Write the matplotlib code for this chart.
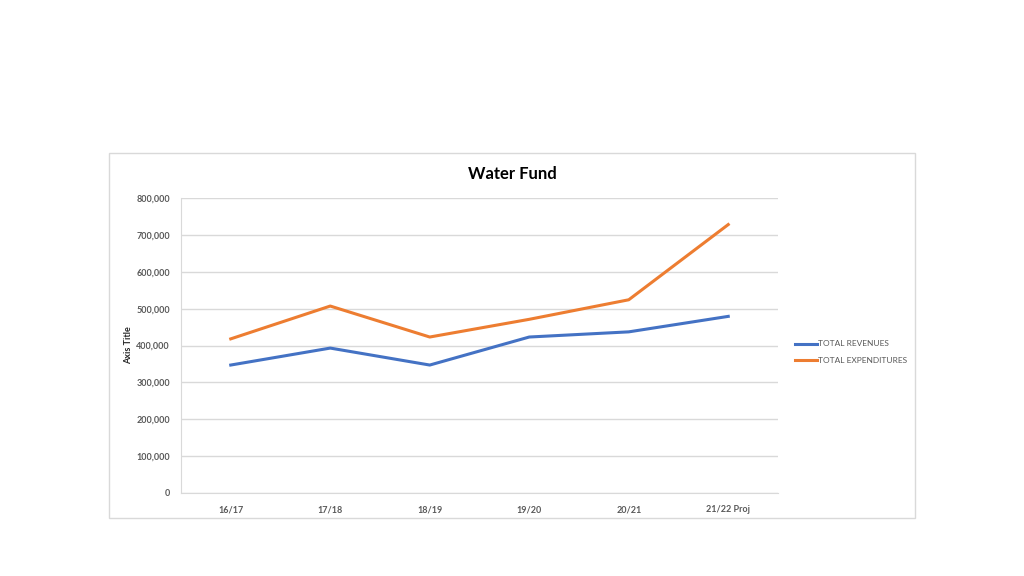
import matplotlib.pyplot as plt
from matplotlib.patches import Rectangle
from matplotlib.ticker import FuncFormatter

plt.rcParams['font.family'] = ['Lato', 'DejaVu Sans']

years = ["16/17", "17/18", "18/19", "19/20", "20/21", "21/22 Proj"]
revenues = [347000, 393000, 347000, 423000, 437000, 479000]
expenditures = [418000, 507000, 423000, 471000, 524000, 728000]

fig = plt.figure(figsize=(10.24, 5.76), dpi=100)

# chart border box
fig.patches.append(Rectangle((109 / 1024, 1 - 518 / 576), 806 / 1024, 365 / 576,
                             transform=fig.transFigure, fill=False,
                             edgecolor="#d9d9d9", linewidth=1))

ax = fig.add_axes([181 / 1024, 1 - 493 / 576, 597 / 1024, 295 / 576])
x = range(len(years))
ax.plot(x, revenues, color="#4472C4", lw=2.2, label="TOTAL REVENUES")
ax.plot(x, expenditures, color="#ED7D31", lw=2.2, label="TOTAL EXPENDITURES")

ax.set_xlim(-0.5, len(years) - 0.5)
ax.set_ylim(0, 800000)
ax.set_yticks(range(0, 800001, 100000))
ax.yaxis.set_major_formatter(FuncFormatter(lambda v, p: f"{int(v):,}"))
ax.set_xticks(list(x))
ax.set_xticklabels(years)
ax.grid(axis="y", color="#d9d9d9", lw=1)
ax.set_axisbelow(True)
for s in ["top", "right"]:
    ax.spines[s].set_visible(False)
for s in ["left", "bottom"]:
    ax.spines[s].set_color("#d9d9d9")
ax.tick_params(length=0, colors="#595959", labelsize=6.5)
ax.tick_params(axis="y", pad=8)
ax.tick_params(axis="x", pad=9)
for lab in ax.get_xticklabels() + ax.get_yticklabels():
    lab.set_fontweight("bold")

fig.text(129 / 1024, 1 - 345 / 576, "Axis Title", rotation=90, ha="center", va="center",
         fontsize=6.5, fontweight="bold", color="#262626")
fig.text(512 / 1024, 1 - 174 / 576, "Water Fund", ha="center", va="center",
         fontsize=12, fontweight="bold", color="#000000")

fig.legend(loc="center left", bbox_to_anchor=(795 / 1024, 1 - 352 / 576), frameon=False,
           borderpad=0, borderaxespad=0, fontsize=6, labelcolor="#595959",
           handlelength=2.6, handletextpad=0.15, labelspacing=1.1)

fig.savefig("out.png", dpi=100, facecolor="white")
